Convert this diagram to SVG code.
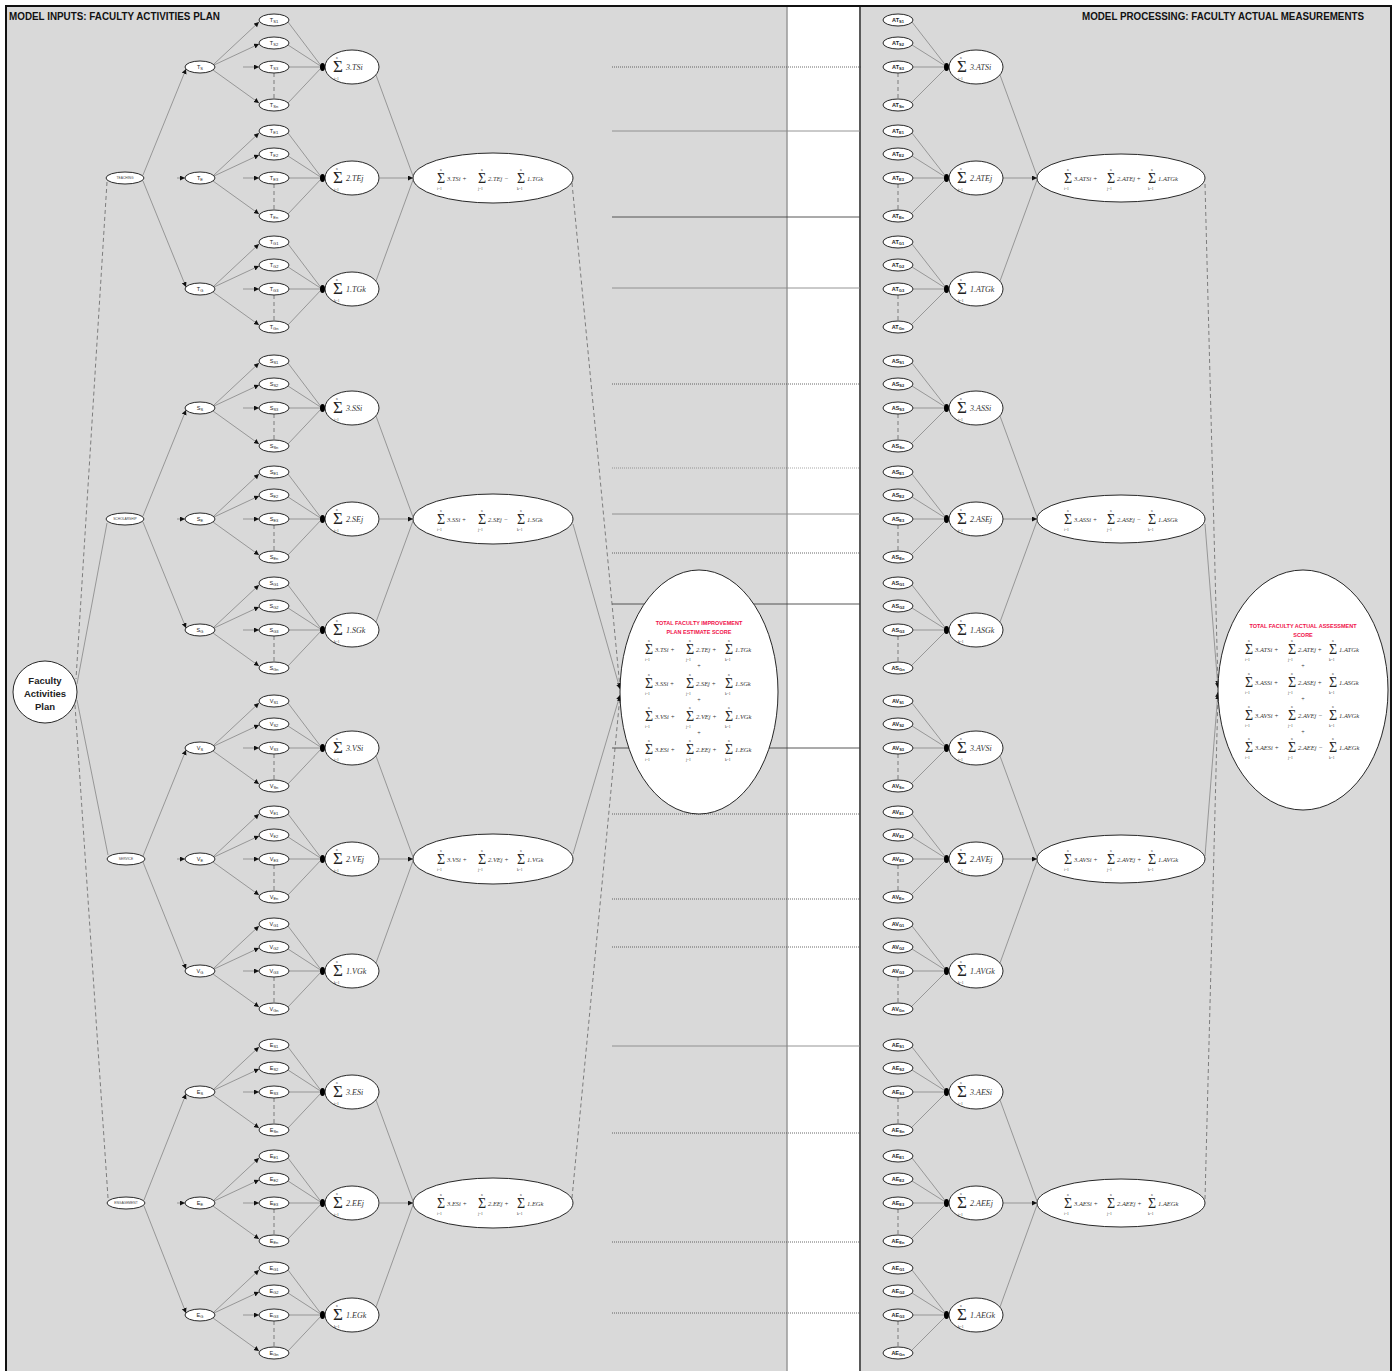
<svg xmlns="http://www.w3.org/2000/svg" width="1396" height="1371" viewBox="0 0 1396 1371">
<defs>
<style>
.nd{fill:#fff;stroke:#111;stroke-width:0.9}
.lb{font-family:"Liberation Sans",Arial,sans-serif;font-size:5.5px;fill:#222;text-anchor:middle}
.ab{font-weight:bold}
.sb{font-size:4px}
.cat{font-family:"Liberation Sans",Arial,sans-serif;font-size:3.3px;fill:#444;text-anchor:middle}
.sg{font-family:"Liberation Serif","Times New Roman",serif;font-size:17px;fill:#222}
.sg2{font-family:"Liberation Serif","Times New Roman",serif;font-size:14px;fill:#222}
.lim{font-family:"Liberation Serif","Times New Roman",serif;font-size:3.5px;fill:#333}
.fx{font-family:"Liberation Serif","Times New Roman",serif;font-style:italic;font-size:8px;fill:#333}
.fx2{font-family:"Liberation Serif","Times New Roman",serif;font-style:italic;font-size:6.5px;fill:#333}
.pl{font-family:"Liberation Serif",serif;font-size:6px;fill:#333;text-anchor:middle}
.ln{stroke:#6a6a6a;stroke-width:0.6;fill:none}
.dl{stroke:#555;stroke-width:0.7;fill:none;stroke-dasharray:4 3}
.gd{stroke:#444;stroke-width:0.8;stroke-dasharray:1 1;fill:none}
.gl{stroke:#888;stroke-width:0.9;fill:none}
.gs{stroke:#444;stroke-width:0.9;fill:none}
.ttl{font-family:"Liberation Sans",Arial,sans-serif;font-weight:bold;font-size:10px;fill:#111}
.big{font-family:"Liberation Sans",Arial,sans-serif;font-weight:bold;font-size:9.5px;fill:#222;text-anchor:middle}
.red{font-family:"Liberation Sans",Arial,sans-serif;font-weight:bold;font-size:5.5px;fill:#f0104a;text-anchor:middle}
</style>
<marker id="ar" markerUnits="userSpaceOnUse" markerWidth="6" markerHeight="6" refX="5" refY="2.5" orient="auto"><path d="M0,0 L5,2.5 L0,5 z" fill="#111"/></marker>
<marker id="dot" markerUnits="userSpaceOnUse" markerWidth="7" markerHeight="10" refX="6" refY="4.5" orient="auto"><ellipse cx="3.5" cy="4.5" rx="2.5" ry="4" fill="#000"/></marker>
</defs>
<rect width="1396" height="1371" fill="#fff"/>
<g id="panels">
<rect x="7" y="7" width="780" height="1364" fill="#d9d9d9"/>
<rect x="861" y="7" width="530" height="1364" fill="#d9d9d9"/>
<path d="M787,7 V1371" stroke="#999" stroke-width="1.5"/>
<path d="M860,7 V1371" stroke="#222" stroke-width="1.5"/>
<path d="M6,1371 V6 H1391 V1371" fill="none" stroke="#111" stroke-width="2"/>
</g>
<g id="guides">
<path class="gd" d="M612,67 H862"/>
<path class="gl" d="M612,131 H860"/>
<path class="gs" d="M612,217 H860"/>
<path class="gl" d="M612,288 H860"/>
<path class="gd" d="M612,384 H860"/>
<path class="gd" d="M612,468 H860" opacity="0.6"/>
<path class="gl" d="M612,514 H860"/>
<path class="gd" d="M612,553 H860"/>
<path class="gs" d="M612,604 H860"/>
<path class="gs" d="M612,748 H860"/>
<path class="gd" d="M612,814 H860"/>
<path class="gd" d="M612,899 H860"/>
<path class="gd" d="M612,947 H860"/>
<path class="gl" d="M612,1046 H860"/>
<path class="gd" d="M612,1133 H860"/>
<path class="gd" d="M612,1242 H860"/>
<path class="gd" d="M612,1313 H860"/>
</g>
<g id="connectors">
<path class="dl" d="M107,182 L76,679"/>
<path class="ln" d="M107,523 L77,684"/>
<path class="ln" d="M108,855 L77,700"/>
<path class="dl" d="M108,1198 L75,705"/>
<path class="ln" marker-end="url(#ar)" d="M143,175 L186,69"/>
<path class="ln" marker-end="url(#ar)" d="M177,178 H185"/>
<path class="ln" marker-end="url(#ar)" d="M143,181 L186,287"/>
<path class="ln" marker-end="url(#ar)" d="M143,516 L186,410"/>
<path class="ln" marker-end="url(#ar)" d="M177,519 H185"/>
<path class="ln" marker-end="url(#ar)" d="M143,522 L186,628"/>
<path class="ln" marker-end="url(#ar)" d="M143,856 L186,750"/>
<path class="ln" marker-end="url(#ar)" d="M177,859 H185"/>
<path class="ln" marker-end="url(#ar)" d="M143,862 L186,969"/>
<path class="ln" marker-end="url(#ar)" d="M144,1200 L186,1094"/>
<path class="ln" marker-end="url(#ar)" d="M177,1203 H185"/>
<path class="ln" marker-end="url(#ar)" d="M144,1206 L186,1313"/>
<path class="ln" marker-end="url(#ar)" d="M214,64 L259,22"/><path class="ln" marker-end="url(#ar)" d="M214,65 L259,44"/><path class="ln" marker-end="url(#ar)" d="M243,67 H259"/><path class="ln" marker-end="url(#ar)" d="M213,70 L259,103"/><path class="dl" d="M274,73 V99"/><path class="ln" d="M288,22 L322,67 M288,45 L322,67 M288,103 L322,67"/><path class="ln" marker-end="url(#dot)" d="M289,67 H325"/>
<path class="ln" marker-end="url(#ar)" d="M214,175 L259,133"/><path class="ln" marker-end="url(#ar)" d="M214,176 L259,155"/><path class="ln" marker-end="url(#ar)" d="M243,178 H259"/><path class="ln" marker-end="url(#ar)" d="M213,181 L259,214"/><path class="dl" d="M274,184 V210"/><path class="ln" d="M288,133 L322,178 M288,156 L322,178 M288,214 L322,178"/><path class="ln" marker-end="url(#dot)" d="M289,178 H325"/>
<path class="ln" marker-end="url(#ar)" d="M214,286 L259,244"/><path class="ln" marker-end="url(#ar)" d="M214,287 L259,266"/><path class="ln" marker-end="url(#ar)" d="M243,289 H259"/><path class="ln" marker-end="url(#ar)" d="M213,292 L259,325"/><path class="dl" d="M274,295 V321"/><path class="ln" d="M288,244 L322,289 M288,267 L322,289 M288,325 L322,289"/><path class="ln" marker-end="url(#dot)" d="M289,289 H325"/>
<path class="ln" marker-end="url(#ar)" d="M214,405 L259,363"/><path class="ln" marker-end="url(#ar)" d="M214,406 L259,385"/><path class="ln" marker-end="url(#ar)" d="M243,408 H259"/><path class="ln" marker-end="url(#ar)" d="M213,411 L259,444"/><path class="dl" d="M274,414 V440"/><path class="ln" d="M288,363 L322,408 M288,386 L322,408 M288,444 L322,408"/><path class="ln" marker-end="url(#dot)" d="M289,408 H325"/>
<path class="ln" marker-end="url(#ar)" d="M214,516 L259,474"/><path class="ln" marker-end="url(#ar)" d="M214,517 L259,496"/><path class="ln" marker-end="url(#ar)" d="M243,519 H259"/><path class="ln" marker-end="url(#ar)" d="M213,522 L259,555"/><path class="dl" d="M274,525 V551"/><path class="ln" d="M288,474 L322,519 M288,497 L322,519 M288,555 L322,519"/><path class="ln" marker-end="url(#dot)" d="M289,519 H325"/>
<path class="ln" marker-end="url(#ar)" d="M214,627 L259,585"/><path class="ln" marker-end="url(#ar)" d="M214,628 L259,607"/><path class="ln" marker-end="url(#ar)" d="M243,630 H259"/><path class="ln" marker-end="url(#ar)" d="M213,633 L259,666"/><path class="dl" d="M274,636 V662"/><path class="ln" d="M288,585 L322,630 M288,608 L322,630 M288,666 L322,630"/><path class="ln" marker-end="url(#dot)" d="M289,630 H325"/>
<path class="ln" marker-end="url(#ar)" d="M214,745 L259,703"/><path class="ln" marker-end="url(#ar)" d="M214,746 L259,725"/><path class="ln" marker-end="url(#ar)" d="M243,748 H259"/><path class="ln" marker-end="url(#ar)" d="M213,751 L259,784"/><path class="dl" d="M274,754 V780"/><path class="ln" d="M288,703 L322,748 M288,726 L322,748 M288,784 L322,748"/><path class="ln" marker-end="url(#dot)" d="M289,748 H325"/>
<path class="ln" marker-end="url(#ar)" d="M214,856 L259,814"/><path class="ln" marker-end="url(#ar)" d="M214,857 L259,836"/><path class="ln" marker-end="url(#ar)" d="M243,859 H259"/><path class="ln" marker-end="url(#ar)" d="M213,862 L259,895"/><path class="dl" d="M274,865 V891"/><path class="ln" d="M288,814 L322,859 M288,837 L322,859 M288,895 L322,859"/><path class="ln" marker-end="url(#dot)" d="M289,859 H325"/>
<path class="ln" marker-end="url(#ar)" d="M214,968 L259,926"/><path class="ln" marker-end="url(#ar)" d="M214,969 L259,948"/><path class="ln" marker-end="url(#ar)" d="M243,971 H259"/><path class="ln" marker-end="url(#ar)" d="M213,974 L259,1007"/><path class="dl" d="M274,977 V1003"/><path class="ln" d="M288,926 L322,971 M288,949 L322,971 M288,1007 L322,971"/><path class="ln" marker-end="url(#dot)" d="M289,971 H325"/>
<path class="ln" marker-end="url(#ar)" d="M214,1089 L259,1047"/><path class="ln" marker-end="url(#ar)" d="M214,1090 L259,1069"/><path class="ln" marker-end="url(#ar)" d="M243,1092 H259"/><path class="ln" marker-end="url(#ar)" d="M213,1095 L259,1128"/><path class="dl" d="M274,1098 V1124"/><path class="ln" d="M288,1047 L322,1092 M288,1070 L322,1092 M288,1128 L322,1092"/><path class="ln" marker-end="url(#dot)" d="M289,1092 H325"/>
<path class="ln" marker-end="url(#ar)" d="M214,1200 L259,1158"/><path class="ln" marker-end="url(#ar)" d="M214,1201 L259,1180"/><path class="ln" marker-end="url(#ar)" d="M243,1203 H259"/><path class="ln" marker-end="url(#ar)" d="M213,1206 L259,1239"/><path class="dl" d="M274,1209 V1235"/><path class="ln" d="M288,1158 L322,1203 M288,1181 L322,1203 M288,1239 L322,1203"/><path class="ln" marker-end="url(#dot)" d="M289,1203 H325"/>
<path class="ln" marker-end="url(#ar)" d="M214,1312 L259,1270"/><path class="ln" marker-end="url(#ar)" d="M214,1313 L259,1292"/><path class="ln" marker-end="url(#ar)" d="M243,1315 H259"/><path class="ln" marker-end="url(#ar)" d="M213,1318 L259,1351"/><path class="dl" d="M274,1321 V1347"/><path class="ln" d="M288,1270 L322,1315 M288,1293 L322,1315 M288,1351 L322,1315"/><path class="ln" marker-end="url(#dot)" d="M289,1315 H325"/>
<path class="ln" d="M376,75 L413,176 M376,281 L413,180"/><path class="ln" marker-end="url(#ar)" d="M380,178 H413"/>
<path class="ln" d="M376,416 L413,517 M376,622 L413,521"/><path class="ln" marker-end="url(#ar)" d="M380,519 H413"/>
<path class="ln" d="M376,756 L413,857 M376,963 L413,861"/><path class="ln" marker-end="url(#ar)" d="M380,859 H413"/>
<path class="ln" d="M376,1100 L413,1201 M376,1307 L413,1205"/><path class="ln" marker-end="url(#ar)" d="M380,1203 H413"/>
<path class="dl" marker-end="url(#ar)" d="M572,183 L620,688"/>
<path class="ln" marker-end="url(#ar)" d="M573,524 L620,689"/>
<path class="ln" marker-end="url(#ar)" d="M573,854 L620,695"/>
<path class="dl" marker-end="url(#ar)" d="M572,1198 L620,696"/>
<path class="dl" d="M898,73 V99"/><path class="ln" d="M912,22 L947,67 M912,45 L947,67 M911,103 L947,67"/><path class="ln" marker-end="url(#dot)" d="M913,67 H949"/>
<path class="dl" d="M898,184 V210"/><path class="ln" d="M912,133 L947,178 M912,156 L947,178 M911,214 L947,178"/><path class="ln" marker-end="url(#dot)" d="M913,178 H949"/>
<path class="dl" d="M898,295 V321"/><path class="ln" d="M912,244 L947,289 M912,267 L947,289 M911,325 L947,289"/><path class="ln" marker-end="url(#dot)" d="M913,289 H949"/>
<path class="dl" d="M898,414 V440"/><path class="ln" d="M912,363 L947,408 M912,386 L947,408 M911,444 L947,408"/><path class="ln" marker-end="url(#dot)" d="M913,408 H949"/>
<path class="dl" d="M898,525 V551"/><path class="ln" d="M912,474 L947,519 M912,497 L947,519 M911,555 L947,519"/><path class="ln" marker-end="url(#dot)" d="M913,519 H949"/>
<path class="dl" d="M898,636 V662"/><path class="ln" d="M912,585 L947,630 M912,608 L947,630 M911,666 L947,630"/><path class="ln" marker-end="url(#dot)" d="M913,630 H949"/>
<path class="dl" d="M898,754 V780"/><path class="ln" d="M912,703 L947,748 M912,726 L947,748 M911,784 L947,748"/><path class="ln" marker-end="url(#dot)" d="M913,748 H949"/>
<path class="dl" d="M898,865 V891"/><path class="ln" d="M912,814 L947,859 M912,837 L947,859 M911,895 L947,859"/><path class="ln" marker-end="url(#dot)" d="M913,859 H949"/>
<path class="dl" d="M898,977 V1003"/><path class="ln" d="M912,926 L947,971 M912,949 L947,971 M911,1007 L947,971"/><path class="ln" marker-end="url(#dot)" d="M913,971 H949"/>
<path class="dl" d="M898,1098 V1124"/><path class="ln" d="M912,1047 L947,1092 M912,1070 L947,1092 M911,1128 L947,1092"/><path class="ln" marker-end="url(#dot)" d="M913,1092 H949"/>
<path class="dl" d="M898,1209 V1235"/><path class="ln" d="M912,1158 L947,1203 M912,1181 L947,1203 M911,1239 L947,1203"/><path class="ln" marker-end="url(#dot)" d="M913,1203 H949"/>
<path class="dl" d="M898,1321 V1347"/><path class="ln" d="M912,1270 L947,1315 M912,1293 L947,1315 M911,1351 L947,1315"/><path class="ln" marker-end="url(#dot)" d="M913,1315 H949"/>
<path class="ln" d="M1000,75 L1037,176 M1000,281 L1037,180"/><path class="ln" marker-end="url(#ar)" d="M1003,178 H1037"/>
<path class="ln" d="M1000,416 L1037,517 M1000,622 L1037,521"/><path class="ln" marker-end="url(#ar)" d="M1003,519 H1037"/>
<path class="ln" d="M1000,756 L1037,857 M1000,963 L1037,861"/><path class="ln" marker-end="url(#ar)" d="M1003,859 H1037"/>
<path class="ln" d="M1000,1100 L1037,1201 M1000,1307 L1037,1205"/><path class="ln" marker-end="url(#ar)" d="M1003,1203 H1037"/>
<path class="dl" marker-end="url(#ar)" d="M1205,184 L1218,686"/>
<path class="ln" marker-end="url(#ar)" d="M1205,524 L1218,688"/>
<path class="ln" marker-end="url(#ar)" d="M1205,856 L1218,692"/>
<path class="dl" marker-end="url(#ar)" d="M1205,1199 L1218,694"/>
</g>
<g id="titles">
<text class="ttl" x="9" y="19.5" textLength="211" lengthAdjust="spacingAndGlyphs">MODEL INPUTS: FACULTY ACTIVITIES PLAN</text>
<text class="ttl" x="1082" y="19.5" textLength="282" lengthAdjust="spacingAndGlyphs">MODEL PROCESSING: FACULTY ACTUAL MEASUREMENTS</text>
</g>
<g id="nodes">
<g id="faculty-plan"><ellipse class="nd" cx="45" cy="692" rx="32" ry="31"/><text class="big" x="45" y="683.5">Faculty</text><text class="big" x="45" y="696.5">Activities</text><text class="big" x="45" y="709.5">Plan</text></g>
<g id="cat-teaching"><ellipse class="nd" cx="125" cy="178" rx="19" ry="6"/><text class="cat" x="125" y="179.2">TEACHING</text></g>
<g id="cat-scholarship"><ellipse class="nd" cx="125" cy="519" rx="19" ry="6"/><text class="cat" x="125" y="520.2">SCHOLARSHIP</text></g>
<g id="cat-service"><ellipse class="nd" cx="126" cy="859" rx="19" ry="6"/><text class="cat" x="126" y="860.2">SERVICE</text></g>
<g id="cat-engagement"><ellipse class="nd" cx="126" cy="1203" rx="19" ry="6"/><text class="cat" x="126" y="1204.2">ENGAGEMENT</text></g>

<g id="t-s"><ellipse class="nd" cx="200" cy="67" rx="15" ry="6"/><text class="lb" x="200" y="68.5">T<tspan class="sb" dy="1">S</tspan></text></g>
<g id="t-e"><ellipse class="nd" cx="200" cy="178" rx="15" ry="6"/><text class="lb" x="200" y="179.5">T<tspan class="sb" dy="1">E</tspan></text></g>
<g id="t-g"><ellipse class="nd" cx="200" cy="289" rx="15" ry="6"/><text class="lb" x="200" y="290.5">T<tspan class="sb" dy="1">G</tspan></text></g>
<g id="s-s"><ellipse class="nd" cx="200" cy="408" rx="15" ry="6"/><text class="lb" x="200" y="409.5">S<tspan class="sb" dy="1">S</tspan></text></g>
<g id="s-e"><ellipse class="nd" cx="200" cy="519" rx="15" ry="6"/><text class="lb" x="200" y="520.5">S<tspan class="sb" dy="1">E</tspan></text></g>
<g id="s-g"><ellipse class="nd" cx="200" cy="630" rx="15" ry="6"/><text class="lb" x="200" y="631.5">S<tspan class="sb" dy="1">G</tspan></text></g>
<g id="v-s"><ellipse class="nd" cx="200" cy="748" rx="15" ry="6"/><text class="lb" x="200" y="749.5">V<tspan class="sb" dy="1">S</tspan></text></g>
<g id="v-e"><ellipse class="nd" cx="200" cy="859" rx="15" ry="6"/><text class="lb" x="200" y="860.5">V<tspan class="sb" dy="1">E</tspan></text></g>
<g id="v-g"><ellipse class="nd" cx="200" cy="971" rx="15" ry="6"/><text class="lb" x="200" y="972.5">V<tspan class="sb" dy="1">G</tspan></text></g>
<g id="e-s"><ellipse class="nd" cx="200" cy="1092" rx="15" ry="6"/><text class="lb" x="200" y="1093.5">E<tspan class="sb" dy="1">S</tspan></text></g>
<g id="e-e"><ellipse class="nd" cx="200" cy="1203" rx="15" ry="6"/><text class="lb" x="200" y="1204.5">E<tspan class="sb" dy="1">E</tspan></text></g>
<g id="e-g"><ellipse class="nd" cx="200" cy="1315" rx="15" ry="6"/><text class="lb" x="200" y="1316.5">E<tspan class="sb" dy="1">G</tspan></text></g>

<g id="ts1"><ellipse class="nd" cx="274" cy="20" rx="15" ry="6"/><text class="lb" x="274" y="21.5">T<tspan class="sb" dy="1">S1</tspan></text></g>
<g id="ts2"><ellipse class="nd" cx="274" cy="43" rx="15" ry="6"/><text class="lb" x="274" y="44.5">T<tspan class="sb" dy="1">S2</tspan></text></g>
<g id="ts3"><ellipse class="nd" cx="274" cy="67" rx="15" ry="6"/><text class="lb" x="274" y="68.5">T<tspan class="sb" dy="1">S3</tspan></text></g>
<g id="tsn"><ellipse class="nd" cx="274" cy="105" rx="15" ry="6"/><text class="lb" x="274" y="106.5">T<tspan class="sb" dy="1">Sn</tspan></text></g>
<g id="te1"><ellipse class="nd" cx="274" cy="131" rx="15" ry="6"/><text class="lb" x="274" y="132.5">T<tspan class="sb" dy="1">E1</tspan></text></g>
<g id="te2"><ellipse class="nd" cx="274" cy="154" rx="15" ry="6"/><text class="lb" x="274" y="155.5">T<tspan class="sb" dy="1">E2</tspan></text></g>
<g id="te3"><ellipse class="nd" cx="274" cy="178" rx="15" ry="6"/><text class="lb" x="274" y="179.5">T<tspan class="sb" dy="1">E3</tspan></text></g>
<g id="ten"><ellipse class="nd" cx="274" cy="216" rx="15" ry="6"/><text class="lb" x="274" y="217.5">T<tspan class="sb" dy="1">En</tspan></text></g>
<g id="tg1"><ellipse class="nd" cx="274" cy="242" rx="15" ry="6"/><text class="lb" x="274" y="243.5">T<tspan class="sb" dy="1">G1</tspan></text></g>
<g id="tg2"><ellipse class="nd" cx="274" cy="265" rx="15" ry="6"/><text class="lb" x="274" y="266.5">T<tspan class="sb" dy="1">G2</tspan></text></g>
<g id="tg3"><ellipse class="nd" cx="274" cy="289" rx="15" ry="6"/><text class="lb" x="274" y="290.5">T<tspan class="sb" dy="1">G3</tspan></text></g>
<g id="tgn"><ellipse class="nd" cx="274" cy="327" rx="15" ry="6"/><text class="lb" x="274" y="328.5">T<tspan class="sb" dy="1">Gn</tspan></text></g>
<g id="ss1"><ellipse class="nd" cx="274" cy="361" rx="15" ry="6"/><text class="lb" x="274" y="362.5">S<tspan class="sb" dy="1">S1</tspan></text></g>
<g id="ss2"><ellipse class="nd" cx="274" cy="384" rx="15" ry="6"/><text class="lb" x="274" y="385.5">S<tspan class="sb" dy="1">S2</tspan></text></g>
<g id="ss3"><ellipse class="nd" cx="274" cy="408" rx="15" ry="6"/><text class="lb" x="274" y="409.5">S<tspan class="sb" dy="1">S3</tspan></text></g>
<g id="ssn"><ellipse class="nd" cx="274" cy="446" rx="15" ry="6"/><text class="lb" x="274" y="447.5">S<tspan class="sb" dy="1">Sn</tspan></text></g>
<g id="se1"><ellipse class="nd" cx="274" cy="472" rx="15" ry="6"/><text class="lb" x="274" y="473.5">S<tspan class="sb" dy="1">E1</tspan></text></g>
<g id="se2"><ellipse class="nd" cx="274" cy="495" rx="15" ry="6"/><text class="lb" x="274" y="496.5">S<tspan class="sb" dy="1">E2</tspan></text></g>
<g id="se3"><ellipse class="nd" cx="274" cy="519" rx="15" ry="6"/><text class="lb" x="274" y="520.5">S<tspan class="sb" dy="1">E3</tspan></text></g>
<g id="sen"><ellipse class="nd" cx="274" cy="557" rx="15" ry="6"/><text class="lb" x="274" y="558.5">S<tspan class="sb" dy="1">En</tspan></text></g>
<g id="sg1"><ellipse class="nd" cx="274" cy="583" rx="15" ry="6"/><text class="lb" x="274" y="584.5">S<tspan class="sb" dy="1">G1</tspan></text></g>
<g id="sg2"><ellipse class="nd" cx="274" cy="606" rx="15" ry="6"/><text class="lb" x="274" y="607.5">S<tspan class="sb" dy="1">G2</tspan></text></g>
<g id="sg3"><ellipse class="nd" cx="274" cy="630" rx="15" ry="6"/><text class="lb" x="274" y="631.5">S<tspan class="sb" dy="1">G3</tspan></text></g>
<g id="sgn"><ellipse class="nd" cx="274" cy="668" rx="15" ry="6"/><text class="lb" x="274" y="669.5">S<tspan class="sb" dy="1">Gn</tspan></text></g>
<g id="vs1"><ellipse class="nd" cx="274" cy="701" rx="15" ry="6"/><text class="lb" x="274" y="702.5">V<tspan class="sb" dy="1">S1</tspan></text></g>
<g id="vs2"><ellipse class="nd" cx="274" cy="724" rx="15" ry="6"/><text class="lb" x="274" y="725.5">V<tspan class="sb" dy="1">S2</tspan></text></g>
<g id="vs3"><ellipse class="nd" cx="274" cy="748" rx="15" ry="6"/><text class="lb" x="274" y="749.5">V<tspan class="sb" dy="1">S3</tspan></text></g>
<g id="vsn"><ellipse class="nd" cx="274" cy="786" rx="15" ry="6"/><text class="lb" x="274" y="787.5">V<tspan class="sb" dy="1">Sn</tspan></text></g>
<g id="ve1"><ellipse class="nd" cx="274" cy="812" rx="15" ry="6"/><text class="lb" x="274" y="813.5">V<tspan class="sb" dy="1">E1</tspan></text></g>
<g id="ve2"><ellipse class="nd" cx="274" cy="835" rx="15" ry="6"/><text class="lb" x="274" y="836.5">V<tspan class="sb" dy="1">E2</tspan></text></g>
<g id="ve3"><ellipse class="nd" cx="274" cy="859" rx="15" ry="6"/><text class="lb" x="274" y="860.5">V<tspan class="sb" dy="1">E3</tspan></text></g>
<g id="ven"><ellipse class="nd" cx="274" cy="897" rx="15" ry="6"/><text class="lb" x="274" y="898.5">V<tspan class="sb" dy="1">En</tspan></text></g>
<g id="vg1"><ellipse class="nd" cx="274" cy="924" rx="15" ry="6"/><text class="lb" x="274" y="925.5">V<tspan class="sb" dy="1">G1</tspan></text></g>
<g id="vg2"><ellipse class="nd" cx="274" cy="947" rx="15" ry="6"/><text class="lb" x="274" y="948.5">V<tspan class="sb" dy="1">G2</tspan></text></g>
<g id="vg3"><ellipse class="nd" cx="274" cy="971" rx="15" ry="6"/><text class="lb" x="274" y="972.5">V<tspan class="sb" dy="1">G3</tspan></text></g>
<g id="vgn"><ellipse class="nd" cx="274" cy="1009" rx="15" ry="6"/><text class="lb" x="274" y="1010.5">V<tspan class="sb" dy="1">Gn</tspan></text></g>
<g id="es1"><ellipse class="nd" cx="274" cy="1045" rx="15" ry="6"/><text class="lb" x="274" y="1046.5">E<tspan class="sb" dy="1">S1</tspan></text></g>
<g id="es2"><ellipse class="nd" cx="274" cy="1068" rx="15" ry="6"/><text class="lb" x="274" y="1069.5">E<tspan class="sb" dy="1">S2</tspan></text></g>
<g id="es3"><ellipse class="nd" cx="274" cy="1092" rx="15" ry="6"/><text class="lb" x="274" y="1093.5">E<tspan class="sb" dy="1">S3</tspan></text></g>
<g id="esn"><ellipse class="nd" cx="274" cy="1130" rx="15" ry="6"/><text class="lb" x="274" y="1131.5">E<tspan class="sb" dy="1">Sn</tspan></text></g>
<g id="ee1"><ellipse class="nd" cx="274" cy="1156" rx="15" ry="6"/><text class="lb" x="274" y="1157.5">E<tspan class="sb" dy="1">E1</tspan></text></g>
<g id="ee2"><ellipse class="nd" cx="274" cy="1179" rx="15" ry="6"/><text class="lb" x="274" y="1180.5">E<tspan class="sb" dy="1">E2</tspan></text></g>
<g id="ee3"><ellipse class="nd" cx="274" cy="1203" rx="15" ry="6"/><text class="lb" x="274" y="1204.5">E<tspan class="sb" dy="1">E3</tspan></text></g>
<g id="een"><ellipse class="nd" cx="274" cy="1241" rx="15" ry="6"/><text class="lb" x="274" y="1242.5">E<tspan class="sb" dy="1">En</tspan></text></g>
<g id="eg1"><ellipse class="nd" cx="274" cy="1268" rx="15" ry="6"/><text class="lb" x="274" y="1269.5">E<tspan class="sb" dy="1">G1</tspan></text></g>
<g id="eg2"><ellipse class="nd" cx="274" cy="1291" rx="15" ry="6"/><text class="lb" x="274" y="1292.5">E<tspan class="sb" dy="1">G2</tspan></text></g>
<g id="eg3"><ellipse class="nd" cx="274" cy="1315" rx="15" ry="6"/><text class="lb" x="274" y="1316.5">E<tspan class="sb" dy="1">G3</tspan></text></g>
<g id="egn"><ellipse class="nd" cx="274" cy="1353" rx="15" ry="6"/><text class="lb" x="274" y="1354.5">E<tspan class="sb" dy="1">Gn</tspan></text></g>

<g id="sum-tsi"><ellipse class="nd" cx="352" cy="67" rx="27" ry="17"/><text class="sg" x="333" y="72">Σ</text><text class="lim" x="336" y="59">n</text><text class="lim" x="334" y="80">i=1</text><text class="fx" x="346" y="70">3.TSi</text></g>
<g id="sum-tej"><ellipse class="nd" cx="352" cy="178" rx="27" ry="17"/><text class="sg" x="333" y="183">Σ</text><text class="lim" x="336" y="170">n</text><text class="lim" x="334" y="191">j=1</text><text class="fx" x="346" y="181">2.TEj</text></g>
<g id="sum-tgk"><ellipse class="nd" cx="352" cy="289" rx="27" ry="17"/><text class="sg" x="333" y="294">Σ</text><text class="lim" x="336" y="281">n</text><text class="lim" x="334" y="302">k=1</text><text class="fx" x="346" y="292">1.TGk</text></g>
<g id="sum-ssi"><ellipse class="nd" cx="352" cy="408" rx="27" ry="17"/><text class="sg" x="333" y="413">Σ</text><text class="lim" x="336" y="400">n</text><text class="lim" x="334" y="421">i=1</text><text class="fx" x="346" y="411">3.SSi</text></g>
<g id="sum-sej"><ellipse class="nd" cx="352" cy="519" rx="27" ry="17"/><text class="sg" x="333" y="524">Σ</text><text class="lim" x="336" y="511">n</text><text class="lim" x="334" y="532">j=1</text><text class="fx" x="346" y="522">2.SEj</text></g>
<g id="sum-sgk"><ellipse class="nd" cx="352" cy="630" rx="27" ry="17"/><text class="sg" x="333" y="635">Σ</text><text class="lim" x="336" y="622">n</text><text class="lim" x="334" y="643">k=1</text><text class="fx" x="346" y="633">1.SGk</text></g>
<g id="sum-vsi"><ellipse class="nd" cx="352" cy="748" rx="27" ry="17"/><text class="sg" x="333" y="753">Σ</text><text class="lim" x="336" y="740">n</text><text class="lim" x="334" y="761">i=1</text><text class="fx" x="346" y="751">3.VSi</text></g>
<g id="sum-vej"><ellipse class="nd" cx="352" cy="859" rx="27" ry="17"/><text class="sg" x="333" y="864">Σ</text><text class="lim" x="336" y="851">n</text><text class="lim" x="334" y="872">j=1</text><text class="fx" x="346" y="862">2.VEj</text></g>
<g id="sum-vgk"><ellipse class="nd" cx="352" cy="971" rx="27" ry="17"/><text class="sg" x="333" y="976">Σ</text><text class="lim" x="336" y="963">n</text><text class="lim" x="334" y="984">k=1</text><text class="fx" x="346" y="974">1.VGk</text></g>
<g id="sum-esi"><ellipse class="nd" cx="352" cy="1092" rx="27" ry="17"/><text class="sg" x="333" y="1097">Σ</text><text class="lim" x="336" y="1084">n</text><text class="lim" x="334" y="1105">i=1</text><text class="fx" x="346" y="1095">3.ESi</text></g>
<g id="sum-eej"><ellipse class="nd" cx="352" cy="1203" rx="27" ry="17"/><text class="sg" x="333" y="1208">Σ</text><text class="lim" x="336" y="1195">n</text><text class="lim" x="334" y="1216">j=1</text><text class="fx" x="346" y="1206">2.EEj</text></g>
<g id="sum-egk"><ellipse class="nd" cx="352" cy="1315" rx="27" ry="17"/><text class="sg" x="333" y="1320">Σ</text><text class="lim" x="336" y="1307">n</text><text class="lim" x="334" y="1328">k=1</text><text class="fx" x="346" y="1318">1.EGk</text></g>

<g id="teaching-score"><ellipse class="nd" cx="493" cy="178" rx="80" ry="25"/><text class="sg2" y="183"><tspan x="437">Σ</tspan><tspan x="478">Σ</tspan><tspan x="517">Σ</tspan></text><text class="lim" y="171"><tspan x="440">n</tspan><tspan x="481">n</tspan><tspan x="520">n</tspan></text><text class="lim" y="190"><tspan x="437">i=1</tspan><tspan x="478">j=1</tspan><tspan x="517">k=1</tspan></text><text class="fx2" y="180.5"><tspan x="447">3.TSi +</tspan><tspan x="488">2.TEj −</tspan><tspan x="527">1.TGk</tspan></text></g>
<g id="scholarship-score"><ellipse class="nd" cx="493" cy="519" rx="80" ry="25"/><text class="sg2" y="524"><tspan x="437">Σ</tspan><tspan x="478">Σ</tspan><tspan x="517">Σ</tspan></text><text class="lim" y="512"><tspan x="440">n</tspan><tspan x="481">n</tspan><tspan x="520">n</tspan></text><text class="lim" y="531"><tspan x="437">i=1</tspan><tspan x="478">j=1</tspan><tspan x="517">k=1</tspan></text><text class="fx2" y="521.5"><tspan x="447">3.SSi +</tspan><tspan x="488">2.SEj −</tspan><tspan x="527">1.SGk</tspan></text></g>
<g id="service-score"><ellipse class="nd" cx="493" cy="859" rx="80" ry="25"/><text class="sg2" y="864"><tspan x="437">Σ</tspan><tspan x="478">Σ</tspan><tspan x="517">Σ</tspan></text><text class="lim" y="852"><tspan x="440">n</tspan><tspan x="481">n</tspan><tspan x="520">n</tspan></text><text class="lim" y="871"><tspan x="437">i=1</tspan><tspan x="478">j=1</tspan><tspan x="517">k=1</tspan></text><text class="fx2" y="861.5"><tspan x="447">3.VSi +</tspan><tspan x="488">2.VEj +</tspan><tspan x="527">1.VGk</tspan></text></g>
<g id="engagement-score"><ellipse class="nd" cx="493" cy="1203" rx="80" ry="25"/><text class="sg2" y="1208"><tspan x="437">Σ</tspan><tspan x="478">Σ</tspan><tspan x="517">Σ</tspan></text><text class="lim" y="1196"><tspan x="440">n</tspan><tspan x="481">n</tspan><tspan x="520">n</tspan></text><text class="lim" y="1215"><tspan x="437">i=1</tspan><tspan x="478">j=1</tspan><tspan x="517">k=1</tspan></text><text class="fx2" y="1205.5"><tspan x="447">3.ESi +</tspan><tspan x="488">2.EEj +</tspan><tspan x="527">1.EGk</tspan></text></g>

<g id="total-plan"><ellipse class="nd" cx="699" cy="692" rx="79" ry="122"/>
<text class="red" x="699" y="625">TOTAL FACULTY IMPROVEMENT</text><text class="red" x="699" y="634">PLAN ESTIMATE SCORE</text>
<text class="sg2" y="654"><tspan x="645">Σ</tspan><tspan x="686">Σ</tspan><tspan x="725">Σ</tspan></text><text class="lim" y="642"><tspan x="648">n</tspan><tspan x="689">n</tspan><tspan x="728">n</tspan></text><text class="lim" y="661"><tspan x="645">i=1</tspan><tspan x="686">j=1</tspan><tspan x="725">k=1</tspan></text><text class="fx2" y="651.5"><tspan x="655">3.TSi +</tspan><tspan x="696">2.TEj +</tspan><tspan x="735">1.TGk</tspan></text>
<text class="pl" x="699" y="668">+</text>
<text class="sg2" y="688"><tspan x="645">Σ</tspan><tspan x="686">Σ</tspan><tspan x="725">Σ</tspan></text><text class="lim" y="676"><tspan x="648">n</tspan><tspan x="689">n</tspan><tspan x="728">n</tspan></text><text class="lim" y="695"><tspan x="645">i=1</tspan><tspan x="686">j=1</tspan><tspan x="725">k=1</tspan></text><text class="fx2" y="685.5"><tspan x="655">3.SSi +</tspan><tspan x="696">2.SEj +</tspan><tspan x="735">1.SGk</tspan></text>
<text class="pl" x="699" y="702">+</text>
<text class="sg2" y="721"><tspan x="645">Σ</tspan><tspan x="686">Σ</tspan><tspan x="725">Σ</tspan></text><text class="lim" y="709"><tspan x="648">n</tspan><tspan x="689">n</tspan><tspan x="728">n</tspan></text><text class="lim" y="728"><tspan x="645">i=1</tspan><tspan x="686">j=1</tspan><tspan x="725">k=1</tspan></text><text class="fx2" y="718.5"><tspan x="655">3.VSi +</tspan><tspan x="696">2.VEj +</tspan><tspan x="735">1.VGk</tspan></text>
<text class="pl" x="699" y="735">+</text>
<text class="sg2" y="754"><tspan x="645">Σ</tspan><tspan x="686">Σ</tspan><tspan x="725">Σ</tspan></text><text class="lim" y="742"><tspan x="648">n</tspan><tspan x="689">n</tspan><tspan x="728">n</tspan></text><text class="lim" y="761"><tspan x="645">i=1</tspan><tspan x="686">j=1</tspan><tspan x="725">k=1</tspan></text><text class="fx2" y="751.5"><tspan x="655">3.ESi +</tspan><tspan x="696">2.EEj +</tspan><tspan x="735">1.EGk</tspan></text>
</g>

<g id="ats1"><ellipse class="nd" cx="898" cy="20" rx="15" ry="6"/><text class="lb ab" x="898" y="21.5">AT<tspan class="sb" dy="1">S1</tspan></text></g>
<g id="ats2"><ellipse class="nd" cx="898" cy="43" rx="15" ry="6"/><text class="lb ab" x="898" y="44.5">AT<tspan class="sb" dy="1">S2</tspan></text></g>
<g id="ats3"><ellipse class="nd" cx="898" cy="67" rx="15" ry="6"/><text class="lb ab" x="898" y="68.5">AT<tspan class="sb" dy="1">S3</tspan></text></g>
<g id="atsn"><ellipse class="nd" cx="898" cy="105" rx="15" ry="6"/><text class="lb ab" x="898" y="106.5">AT<tspan class="sb" dy="1">Sn</tspan></text></g>
<g id="ate1"><ellipse class="nd" cx="898" cy="131" rx="15" ry="6"/><text class="lb ab" x="898" y="132.5">AT<tspan class="sb" dy="1">E1</tspan></text></g>
<g id="ate2"><ellipse class="nd" cx="898" cy="154" rx="15" ry="6"/><text class="lb ab" x="898" y="155.5">AT<tspan class="sb" dy="1">E2</tspan></text></g>
<g id="ate3"><ellipse class="nd" cx="898" cy="178" rx="15" ry="6"/><text class="lb ab" x="898" y="179.5">AT<tspan class="sb" dy="1">E3</tspan></text></g>
<g id="aten"><ellipse class="nd" cx="898" cy="216" rx="15" ry="6"/><text class="lb ab" x="898" y="217.5">AT<tspan class="sb" dy="1">En</tspan></text></g>
<g id="atg1"><ellipse class="nd" cx="898" cy="242" rx="15" ry="6"/><text class="lb ab" x="898" y="243.5">AT<tspan class="sb" dy="1">G1</tspan></text></g>
<g id="atg2"><ellipse class="nd" cx="898" cy="265" rx="15" ry="6"/><text class="lb ab" x="898" y="266.5">AT<tspan class="sb" dy="1">G2</tspan></text></g>
<g id="atg3"><ellipse class="nd" cx="898" cy="289" rx="15" ry="6"/><text class="lb ab" x="898" y="290.5">AT<tspan class="sb" dy="1">G3</tspan></text></g>
<g id="atgn"><ellipse class="nd" cx="898" cy="327" rx="15" ry="6"/><text class="lb ab" x="898" y="328.5">AT<tspan class="sb" dy="1">Gn</tspan></text></g>
<g id="ass1"><ellipse class="nd" cx="898" cy="361" rx="15" ry="6"/><text class="lb ab" x="898" y="362.5">AS<tspan class="sb" dy="1">S1</tspan></text></g>
<g id="ass2"><ellipse class="nd" cx="898" cy="384" rx="15" ry="6"/><text class="lb ab" x="898" y="385.5">AS<tspan class="sb" dy="1">S2</tspan></text></g>
<g id="ass3"><ellipse class="nd" cx="898" cy="408" rx="15" ry="6"/><text class="lb ab" x="898" y="409.5">AS<tspan class="sb" dy="1">S3</tspan></text></g>
<g id="assn"><ellipse class="nd" cx="898" cy="446" rx="15" ry="6"/><text class="lb ab" x="898" y="447.5">AS<tspan class="sb" dy="1">Sn</tspan></text></g>
<g id="ase1"><ellipse class="nd" cx="898" cy="472" rx="15" ry="6"/><text class="lb ab" x="898" y="473.5">AS<tspan class="sb" dy="1">E1</tspan></text></g>
<g id="ase2"><ellipse class="nd" cx="898" cy="495" rx="15" ry="6"/><text class="lb ab" x="898" y="496.5">AS<tspan class="sb" dy="1">E2</tspan></text></g>
<g id="ase3"><ellipse class="nd" cx="898" cy="519" rx="15" ry="6"/><text class="lb ab" x="898" y="520.5">AS<tspan class="sb" dy="1">E3</tspan></text></g>
<g id="asen"><ellipse class="nd" cx="898" cy="557" rx="15" ry="6"/><text class="lb ab" x="898" y="558.5">AS<tspan class="sb" dy="1">En</tspan></text></g>
<g id="asg1"><ellipse class="nd" cx="898" cy="583" rx="15" ry="6"/><text class="lb ab" x="898" y="584.5">AS<tspan class="sb" dy="1">G1</tspan></text></g>
<g id="asg2"><ellipse class="nd" cx="898" cy="606" rx="15" ry="6"/><text class="lb ab" x="898" y="607.5">AS<tspan class="sb" dy="1">G2</tspan></text></g>
<g id="asg3"><ellipse class="nd" cx="898" cy="630" rx="15" ry="6"/><text class="lb ab" x="898" y="631.5">AS<tspan class="sb" dy="1">G3</tspan></text></g>
<g id="asgn"><ellipse class="nd" cx="898" cy="668" rx="15" ry="6"/><text class="lb ab" x="898" y="669.5">AS<tspan class="sb" dy="1">Gn</tspan></text></g>
<g id="avs1"><ellipse class="nd" cx="898" cy="701" rx="15" ry="6"/><text class="lb ab" x="898" y="702.5">AV<tspan class="sb" dy="1">S1</tspan></text></g>
<g id="avs2"><ellipse class="nd" cx="898" cy="724" rx="15" ry="6"/><text class="lb ab" x="898" y="725.5">AV<tspan class="sb" dy="1">S2</tspan></text></g>
<g id="avs3"><ellipse class="nd" cx="898" cy="748" rx="15" ry="6"/><text class="lb ab" x="898" y="749.5">AV<tspan class="sb" dy="1">S3</tspan></text></g>
<g id="avsn"><ellipse class="nd" cx="898" cy="786" rx="15" ry="6"/><text class="lb ab" x="898" y="787.5">AV<tspan class="sb" dy="1">Sn</tspan></text></g>
<g id="ave1"><ellipse class="nd" cx="898" cy="812" rx="15" ry="6"/><text class="lb ab" x="898" y="813.5">AV<tspan class="sb" dy="1">E1</tspan></text></g>
<g id="ave2"><ellipse class="nd" cx="898" cy="835" rx="15" ry="6"/><text class="lb ab" x="898" y="836.5">AV<tspan class="sb" dy="1">E2</tspan></text></g>
<g id="ave3"><ellipse class="nd" cx="898" cy="859" rx="15" ry="6"/><text class="lb ab" x="898" y="860.5">AV<tspan class="sb" dy="1">E3</tspan></text></g>
<g id="aven"><ellipse class="nd" cx="898" cy="897" rx="15" ry="6"/><text class="lb ab" x="898" y="898.5">AV<tspan class="sb" dy="1">En</tspan></text></g>
<g id="avg1"><ellipse class="nd" cx="898" cy="924" rx="15" ry="6"/><text class="lb ab" x="898" y="925.5">AV<tspan class="sb" dy="1">G1</tspan></text></g>
<g id="avg2"><ellipse class="nd" cx="898" cy="947" rx="15" ry="6"/><text class="lb ab" x="898" y="948.5">AV<tspan class="sb" dy="1">G2</tspan></text></g>
<g id="avg3"><ellipse class="nd" cx="898" cy="971" rx="15" ry="6"/><text class="lb ab" x="898" y="972.5">AV<tspan class="sb" dy="1">G3</tspan></text></g>
<g id="avgn"><ellipse class="nd" cx="898" cy="1009" rx="15" ry="6"/><text class="lb ab" x="898" y="1010.5">AV<tspan class="sb" dy="1">Gn</tspan></text></g>
<g id="aes1"><ellipse class="nd" cx="898" cy="1045" rx="15" ry="6"/><text class="lb ab" x="898" y="1046.5">AE<tspan class="sb" dy="1">S1</tspan></text></g>
<g id="aes2"><ellipse class="nd" cx="898" cy="1068" rx="15" ry="6"/><text class="lb ab" x="898" y="1069.5">AE<tspan class="sb" dy="1">S2</tspan></text></g>
<g id="aes3"><ellipse class="nd" cx="898" cy="1092" rx="15" ry="6"/><text class="lb ab" x="898" y="1093.5">AE<tspan class="sb" dy="1">S3</tspan></text></g>
<g id="aesn"><ellipse class="nd" cx="898" cy="1130" rx="15" ry="6"/><text class="lb ab" x="898" y="1131.5">AE<tspan class="sb" dy="1">Sn</tspan></text></g>
<g id="aee1"><ellipse class="nd" cx="898" cy="1156" rx="15" ry="6"/><text class="lb ab" x="898" y="1157.5">AE<tspan class="sb" dy="1">E1</tspan></text></g>
<g id="aee2"><ellipse class="nd" cx="898" cy="1179" rx="15" ry="6"/><text class="lb ab" x="898" y="1180.5">AE<tspan class="sb" dy="1">E2</tspan></text></g>
<g id="aee3"><ellipse class="nd" cx="898" cy="1203" rx="15" ry="6"/><text class="lb ab" x="898" y="1204.5">AE<tspan class="sb" dy="1">E3</tspan></text></g>
<g id="aeen"><ellipse class="nd" cx="898" cy="1241" rx="15" ry="6"/><text class="lb ab" x="898" y="1242.5">AE<tspan class="sb" dy="1">En</tspan></text></g>
<g id="aeg1"><ellipse class="nd" cx="898" cy="1268" rx="15" ry="6"/><text class="lb ab" x="898" y="1269.5">AE<tspan class="sb" dy="1">G1</tspan></text></g>
<g id="aeg2"><ellipse class="nd" cx="898" cy="1291" rx="15" ry="6"/><text class="lb ab" x="898" y="1292.5">AE<tspan class="sb" dy="1">G2</tspan></text></g>
<g id="aeg3"><ellipse class="nd" cx="898" cy="1315" rx="15" ry="6"/><text class="lb ab" x="898" y="1316.5">AE<tspan class="sb" dy="1">G3</tspan></text></g>
<g id="aegn"><ellipse class="nd" cx="898" cy="1353" rx="15" ry="6"/><text class="lb ab" x="898" y="1354.5">AE<tspan class="sb" dy="1">Gn</tspan></text></g>

<g id="sum-atsi"><ellipse class="nd" cx="976" cy="67" rx="27" ry="17"/><text class="sg" x="957" y="72">Σ</text><text class="lim" x="960" y="59">n</text><text class="lim" x="958" y="80">i=1</text><text class="fx" x="970" y="70">3.ATSi</text></g>
<g id="sum-atej"><ellipse class="nd" cx="976" cy="178" rx="27" ry="17"/><text class="sg" x="957" y="183">Σ</text><text class="lim" x="960" y="170">n</text><text class="lim" x="958" y="191">j=1</text><text class="fx" x="970" y="181">2.ATEj</text></g>
<g id="sum-atgk"><ellipse class="nd" cx="976" cy="289" rx="27" ry="17"/><text class="sg" x="957" y="294">Σ</text><text class="lim" x="960" y="281">n</text><text class="lim" x="958" y="302">k=1</text><text class="fx" x="970" y="292">1.ATGk</text></g>
<g id="sum-assi"><ellipse class="nd" cx="976" cy="408" rx="27" ry="17"/><text class="sg" x="957" y="413">Σ</text><text class="lim" x="960" y="400">n</text><text class="lim" x="958" y="421">i=1</text><text class="fx" x="970" y="411">3.ASSi</text></g>
<g id="sum-asej"><ellipse class="nd" cx="976" cy="519" rx="27" ry="17"/><text class="sg" x="957" y="524">Σ</text><text class="lim" x="960" y="511">n</text><text class="lim" x="958" y="532">j=1</text><text class="fx" x="970" y="522">2.ASEj</text></g>
<g id="sum-asgk"><ellipse class="nd" cx="976" cy="630" rx="27" ry="17"/><text class="sg" x="957" y="635">Σ</text><text class="lim" x="960" y="622">n</text><text class="lim" x="958" y="643">k=1</text><text class="fx" x="970" y="633">1.ASGk</text></g>
<g id="sum-avsi"><ellipse class="nd" cx="976" cy="748" rx="27" ry="17"/><text class="sg" x="957" y="753">Σ</text><text class="lim" x="960" y="740">n</text><text class="lim" x="958" y="761">i=1</text><text class="fx" x="970" y="751">3.AVSi</text></g>
<g id="sum-avej"><ellipse class="nd" cx="976" cy="859" rx="27" ry="17"/><text class="sg" x="957" y="864">Σ</text><text class="lim" x="960" y="851">n</text><text class="lim" x="958" y="872">j=1</text><text class="fx" x="970" y="862">2.AVEj</text></g>
<g id="sum-avgk"><ellipse class="nd" cx="976" cy="971" rx="27" ry="17"/><text class="sg" x="957" y="976">Σ</text><text class="lim" x="960" y="963">n</text><text class="lim" x="958" y="984">k=1</text><text class="fx" x="970" y="974">1.AVGk</text></g>
<g id="sum-aesi"><ellipse class="nd" cx="976" cy="1092" rx="27" ry="17"/><text class="sg" x="957" y="1097">Σ</text><text class="lim" x="960" y="1084">n</text><text class="lim" x="958" y="1105">i=1</text><text class="fx" x="970" y="1095">3.AESi</text></g>
<g id="sum-aeej"><ellipse class="nd" cx="976" cy="1203" rx="27" ry="17"/><text class="sg" x="957" y="1208">Σ</text><text class="lim" x="960" y="1195">n</text><text class="lim" x="958" y="1216">j=1</text><text class="fx" x="970" y="1206">2.AEEj</text></g>
<g id="sum-aegk"><ellipse class="nd" cx="976" cy="1315" rx="27" ry="17"/><text class="sg" x="957" y="1320">Σ</text><text class="lim" x="960" y="1307">n</text><text class="lim" x="958" y="1328">k=1</text><text class="fx" x="970" y="1318">1.AEGk</text></g>

<g id="actual-teaching"><ellipse class="nd" cx="1121" cy="178" rx="84" ry="24"/><text class="sg2" y="183"><tspan x="1064">Σ</tspan><tspan x="1107">Σ</tspan><tspan x="1148">Σ</tspan></text><text class="lim" y="171"><tspan x="1067">n</tspan><tspan x="1110">n</tspan><tspan x="1151">n</tspan></text><text class="lim" y="190"><tspan x="1064">i=1</tspan><tspan x="1107">j=1</tspan><tspan x="1148">k=1</tspan></text><text class="fx2" y="180.5"><tspan x="1074">3.ATSi +</tspan><tspan x="1117">2.ATEj +</tspan><tspan x="1158">1.ATGk</tspan></text></g>
<g id="actual-scholarship"><ellipse class="nd" cx="1121" cy="519" rx="84" ry="24"/><text class="sg2" y="524"><tspan x="1064">Σ</tspan><tspan x="1107">Σ</tspan><tspan x="1148">Σ</tspan></text><text class="lim" y="512"><tspan x="1067">n</tspan><tspan x="1110">n</tspan><tspan x="1151">n</tspan></text><text class="lim" y="531"><tspan x="1064">i=1</tspan><tspan x="1107">j=1</tspan><tspan x="1148">k=1</tspan></text><text class="fx2" y="521.5"><tspan x="1074">3.ASSi +</tspan><tspan x="1117">2.ASEj −</tspan><tspan x="1158">1.ASGk</tspan></text></g>
<g id="actual-service"><ellipse class="nd" cx="1121" cy="859" rx="84" ry="24"/><text class="sg2" y="864"><tspan x="1064">Σ</tspan><tspan x="1107">Σ</tspan><tspan x="1148">Σ</tspan></text><text class="lim" y="852"><tspan x="1067">n</tspan><tspan x="1110">n</tspan><tspan x="1151">n</tspan></text><text class="lim" y="871"><tspan x="1064">i=1</tspan><tspan x="1107">j=1</tspan><tspan x="1148">k=1</tspan></text><text class="fx2" y="861.5"><tspan x="1074">3.AVSi +</tspan><tspan x="1117">2.AVEj +</tspan><tspan x="1158">1.AVGk</tspan></text></g>
<g id="actual-engagement"><ellipse class="nd" cx="1121" cy="1203" rx="84" ry="24"/><text class="sg2" y="1208"><tspan x="1064">Σ</tspan><tspan x="1107">Σ</tspan><tspan x="1148">Σ</tspan></text><text class="lim" y="1196"><tspan x="1067">n</tspan><tspan x="1110">n</tspan><tspan x="1151">n</tspan></text><text class="lim" y="1215"><tspan x="1064">i=1</tspan><tspan x="1107">j=1</tspan><tspan x="1148">k=1</tspan></text><text class="fx2" y="1205.5"><tspan x="1074">3.AESi +</tspan><tspan x="1117">2.AEEj +</tspan><tspan x="1158">1.AEGk</tspan></text></g>

<g id="total-actual"><ellipse class="nd" cx="1303" cy="690" rx="85" ry="120"/>
<text class="red" x="1303" y="628">TOTAL FACULTY ACTUAL ASSESSMENT</text><text class="red" x="1303" y="637">SCORE</text>
<text class="sg2" y="654"><tspan x="1245">Σ</tspan><tspan x="1288">Σ</tspan><tspan x="1329">Σ</tspan></text><text class="lim" y="642"><tspan x="1248">n</tspan><tspan x="1291">n</tspan><tspan x="1332">n</tspan></text><text class="lim" y="661"><tspan x="1245">i=1</tspan><tspan x="1288">j=1</tspan><tspan x="1329">k=1</tspan></text><text class="fx2" y="651.5"><tspan x="1255">3.ATSi +</tspan><tspan x="1298">2.ATEj +</tspan><tspan x="1339">1.ATGk</tspan></text>
<text class="pl" x="1303" y="668">+</text>
<text class="sg2" y="687"><tspan x="1245">Σ</tspan><tspan x="1288">Σ</tspan><tspan x="1329">Σ</tspan></text><text class="lim" y="675"><tspan x="1248">n</tspan><tspan x="1291">n</tspan><tspan x="1332">n</tspan></text><text class="lim" y="694"><tspan x="1245">i=1</tspan><tspan x="1288">j=1</tspan><tspan x="1329">k=1</tspan></text><text class="fx2" y="684.5"><tspan x="1255">3.ASSi +</tspan><tspan x="1298">2.ASEj +</tspan><tspan x="1339">1.ASGk</tspan></text>
<text class="pl" x="1303" y="701">+</text>
<text class="sg2" y="720"><tspan x="1245">Σ</tspan><tspan x="1288">Σ</tspan><tspan x="1329">Σ</tspan></text><text class="lim" y="708"><tspan x="1248">n</tspan><tspan x="1291">n</tspan><tspan x="1332">n</tspan></text><text class="lim" y="727"><tspan x="1245">i=1</tspan><tspan x="1288">j=1</tspan><tspan x="1329">k=1</tspan></text><text class="fx2" y="717.5"><tspan x="1255">3.AVSi +</tspan><tspan x="1298">2.AVEj −</tspan><tspan x="1339">1.AVGk</tspan></text>
<text class="pl" x="1303" y="734">+</text>
<text class="sg2" y="752"><tspan x="1245">Σ</tspan><tspan x="1288">Σ</tspan><tspan x="1329">Σ</tspan></text><text class="lim" y="740"><tspan x="1248">n</tspan><tspan x="1291">n</tspan><tspan x="1332">n</tspan></text><text class="lim" y="759"><tspan x="1245">i=1</tspan><tspan x="1288">j=1</tspan><tspan x="1329">k=1</tspan></text><text class="fx2" y="749.5"><tspan x="1255">3.AESi +</tspan><tspan x="1298">2.AEEj −</tspan><tspan x="1339">1.AEGk</tspan></text>
</g>
</g>
</svg>
